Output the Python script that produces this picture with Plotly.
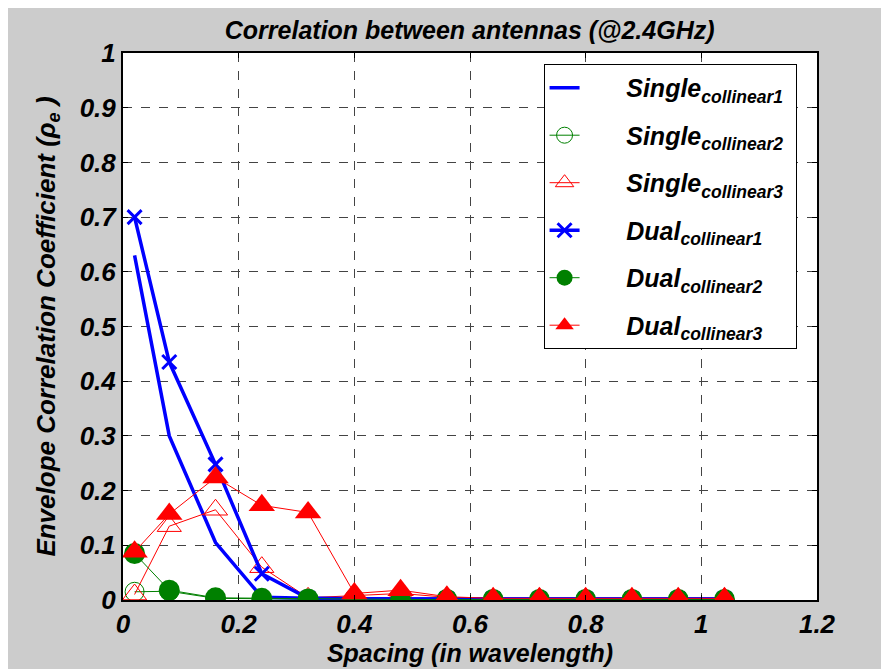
import plotly.graph_objects as go

spacing = [0.02, 0.08, 0.16, 0.24, 0.32, 0.40, 0.48, 0.56, 0.64, 0.72, 0.80, 0.88, 0.96, 1.04]

single_c1 = [0.63, 0.30, 0.105, 0.005, 0.003, 0.002, 0.002, 0.002, 0.002, 0.002, 0.002, 0.002, 0.002, 0.002]
single_c2 = [0.015, 0.016, 0.003, 0.002, 0.001, 0.001, 0.001, 0.001, 0.001, 0.001, 0.001, 0.001, 0.001, 0.001]
single_c3 = [0.010, 0.135, 0.165, 0.060, 0.004, 0.008, 0.012, 0.005, 0.003, 0.003, 0.003, 0.003, 0.003, 0.003]
dual_c1 = [0.70, 0.435, 0.248, 0.048, 0.003, 0.002, 0.002, 0.002, 0.002, 0.002, 0.002, 0.002, 0.002, 0.002]
dual_c2 = [0.085, 0.018, 0.004, 0.003, 0.002, 0.001, 0.001, 0.001, 0.001, 0.001, 0.001, 0.001, 0.001, 0.001]
dual_c3 = [0.088, 0.157, 0.224, 0.173, 0.160, 0.012, 0.018, 0.006, 0.003, 0.003, 0.003, 0.003, 0.003, 0.003]

series_names = ["Single", "Single", "Single", "Dual", "Dual", "Dual"]
series_subs = ["collinear1", "collinear2", "collinear3", "collinear1", "collinear2", "collinear3"]

PAD = "&nbsp;" * 6
names = [f"<b><i>{PAD}{n}<sub>{s}</sub>&nbsp;</i></b>" for n, s in zip(series_names, series_subs)]

BLUE = "#0000ff"
GREEN = "#008000"
RED = "#ff0000"
FONT = "Liberation Sans"

fig = go.Figure()
fig.add_trace(go.Scatter(x=spacing, y=single_c1, mode="lines", name=names[0], legendgroup="g1",
                         line=dict(color=BLUE, width=3.5)))
fig.add_trace(go.Scatter(x=spacing, y=single_c2, mode="lines+markers", name=names[1], legendgroup="g2",
                         line=dict(color=GREEN, width=1),
                         marker=dict(symbol="circle-open", size=19, color=GREEN, line=dict(width=1))))
fig.add_trace(go.Scatter(x=spacing, y=single_c3, mode="lines+markers", name=names[2], legendgroup="g3",
                         line=dict(color=RED, width=1),
                         marker=dict(symbol="triangle-up-open", size=21, color=RED, line=dict(width=1))))
fig.add_trace(go.Scatter(x=spacing, y=dual_c1, mode="lines+markers", name=names[3], legendgroup="g4",
                         line=dict(color=BLUE, width=3.5),
                         marker=dict(symbol="x-thin", size=14, color=BLUE, line=dict(width=3, color=BLUE))))
fig.add_trace(go.Scatter(x=spacing, y=dual_c2, mode="lines+markers", name=names[4], legendgroup="g5",
                         line=dict(color=GREEN, width=1),
                         marker=dict(symbol="circle", size=21, color=GREEN)))
fig.add_trace(go.Scatter(x=spacing, y=dual_c3, mode="lines+markers", name=names[5], legendgroup="g6",
                         line=dict(color=RED, width=1),
                         marker=dict(symbol="triangle-up", size=23, color=RED)))

axis_common = dict(
    showline=True, linecolor="black", linewidth=2, mirror="allticks",
    ticks="inside", ticklen=5, tickcolor="black", tickwidth=1,
    showgrid=True, gridcolor="#444444", griddash="dash", gridwidth=1,
    zeroline=False, automargin=False,
    tickfont=dict(family=FONT, size=26, color="black", weight="bold", style="italic"),
)

fig.update_layout(
    width=881, height=661,
    paper_bgcolor="#cccccc", plot_bgcolor="white",
    margin=dict(l=115, r=72, t=45, b=69),
    font=dict(family=FONT, color="black"),
    title=dict(text="<b><i>Correlation between antennas (@2.4GHz)</i></b>",
               x=0.524, xanchor="center", y=0.966, yanchor="middle",
               font=dict(size=25, family=FONT, color="black")),
    xaxis=dict(range=[0, 1.2], dtick=0.2, **axis_common,
               title=dict(text="<b><i>Spacing (in wavelength)</i></b>", standoff=0,
                          font=dict(size=25, family=FONT))),
    yaxis=dict(range=[0, 1], dtick=0.1, **axis_common,
               title=dict(text="<b><i>Envelope Correlation Coefficient (ρ<sub>e</sub> )</i></b>", standoff=17,
                          font=dict(size=26, family=FONT))),
    legend=dict(x=0.606, y=0.98, xanchor="left", yanchor="top",
                bgcolor="white", bordercolor="black", borderwidth=1,
                font=dict(size=25, family=FONT, color="black"),
                tracegroupgap=12),
    showlegend=True,
)

fig.write_html("out.html")
